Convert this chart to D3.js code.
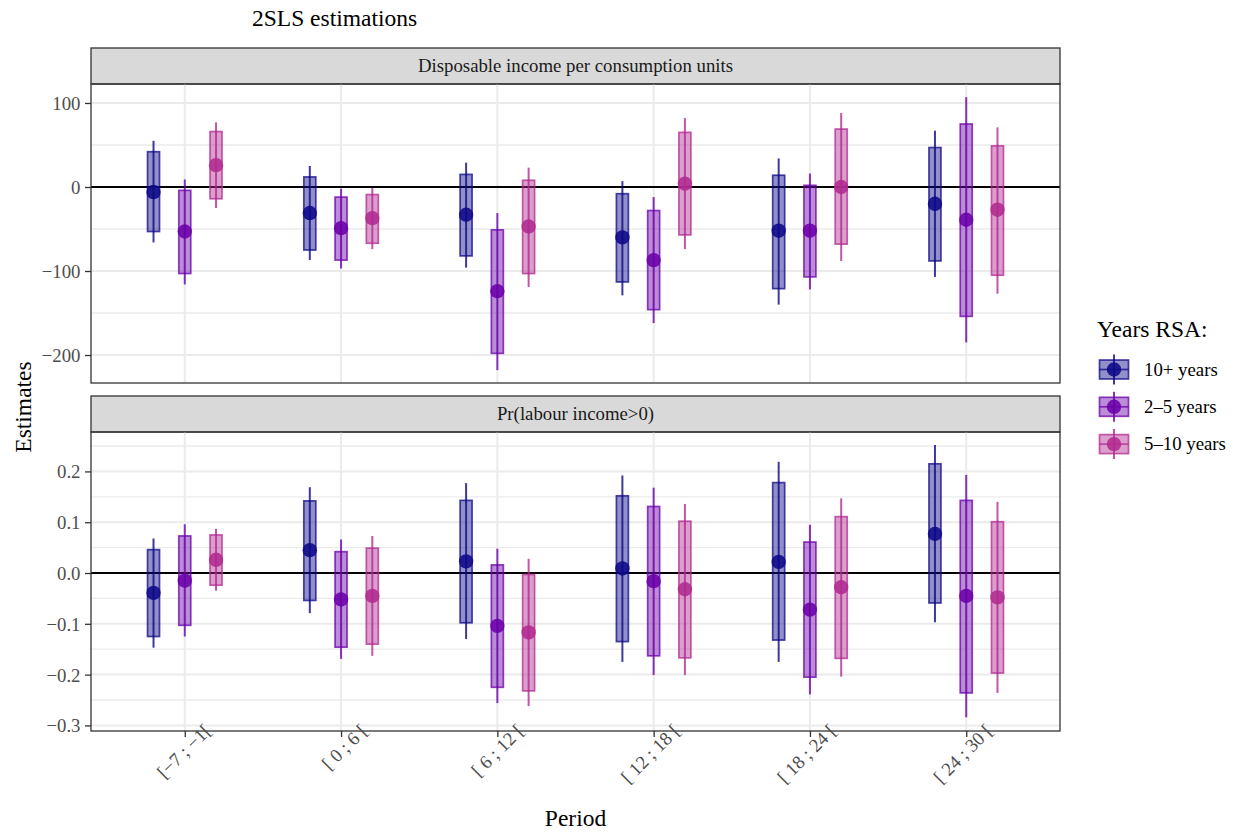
<!DOCTYPE html>
<html>
<head>
<meta charset="utf-8">
<script src="https://cdn.jsdelivr.net/npm/d3@7"></script>
<style>
  body { margin: 0; background: #fff; }
  text { font-family: "Liberation Serif", "Times New Roman", serif; }
</style>
</head>
<body>
<script>
// periods on the x axis
var periods = ["[\u22127 ; \u22121[", "[ 0 ; 6 [", "[ 6 ; 12 [", "[ 12 ; 18 [", "[ 18 ; 24 [", "[ 24 ; 30 ["];
var groups = ["10+ years", "2\u20135 years", "5\u201310 years"];
var panelTitles = ["Disposable income per consumption units", "Pr(labour income>0)"];

// disposable income : estimate, 90% band, 95% band (one row per group)
var incEst  = [[-6, -31, -33, -60, -52, -20], [-53, -49, -124, -87, -52, -39], [26, -37, -47, 4, 0, -27]];
var incLo90 = [[-53, -75, -82, -113, -121, -88], [-103, -87, -198, -146, -107, -154], [-14, -67, -103, -57, -68, -105]];
var incHi90 = [[42, 12, 15, -8, 14, 47], [-4, -12, -51, -28, 2, 75], [66, -9, 8, 65, 69, 49]];
var incLo95 = [[-66, -87, -96, -129, -140, -107], [-116, -97, -218, -162, -122, -185], [-25, -74, -119, -74, -88, -127]];
var incHi95 = [[55, 25, 29, 7, 34, 67], [9, -2, -31, -12, 16, 107], [77, -1, 23, 82, 88, 71]];

// labour income > 0
var labEst  = [[-0.039, 0.045, 0.023, 0.009, 0.022, 0.077], [-0.015, -0.052, -0.104, -0.016, -0.072, -0.045], [0.026, -0.045, -0.117, -0.032, -0.028, -0.048]];
var labLo90 = [[-0.125, -0.054, -0.098, -0.135, -0.132, -0.059], [-0.103, -0.146, -0.225, -0.163, -0.205, -0.236], [-0.024, -0.140, -0.232, -0.167, -0.168, -0.197]];
var labHi90 = [[0.046, 0.142, 0.143, 0.152, 0.178, 0.215], [0.073, 0.042, 0.016, 0.131, 0.061, 0.143], [0.075, 0.049, -0.003, 0.102, 0.111, 0.101]];
var labLo95 = [[-0.147, -0.079, -0.130, -0.175, -0.175, -0.097], [-0.125, -0.169, -0.256, -0.201, -0.239, -0.284], [-0.035, -0.163, -0.262, -0.201, -0.204, -0.236]];
var labHi95 = [[0.068, 0.169, 0.177, 0.192, 0.219, 0.252], [0.096, 0.066, 0.048, 0.168, 0.095, 0.193], [0.087, 0.073, 0.028, 0.136, 0.147, 0.140]];

// tick values
var incTicks = [100, 0, -100, -200];
var incMinor = [50, -50, -150];
var labTicks = [0.2, 0.1, 0.0, -0.1, -0.2, -0.3];
var labMinor = [0.25, 0.15, 0.05, -0.05, -0.15, -0.25];

var width = 1233, height = 832;
var left = 91, right = 1060;
var smallFont = 18.8, bigFont = 23.5;
var colors = [d3.interpolatePlasma(0), d3.interpolatePlasma(0.2), d3.interpolatePlasma(0.4)];

var svg = d3.select("body").append("svg")
    .attr("width", width)
    .attr("height", height);

var x = d3.scalePoint()
    .domain(periods)
    .range([left, right])
    .padding(0.6);
var dodge = x.step() * 0.2;

var minus = function(s){ return s.replace("-", "\u2212"); };

var panels = [
  {title: panelTitles[0], stripTop: 48, top: 84, bottom: 383, domain: [-233.3, 122.6],
   est: incEst, lo90: incLo90, hi90: incHi90, lo95: incLo95, hi95: incHi95,
   ticks: incTicks, minor: incMinor, fmt: function(d){ return minus(d3.format("d")(d)); }},
  {title: panelTitles[1], stripTop: 396, top: 432, bottom: 731, domain: [-0.311, 0.2776],
   est: labEst, lo90: labLo90, hi90: labHi90, lo95: labLo95, hi95: labHi95,
   ticks: labTicks, minor: labMinor, fmt: function(d){ return minus(d3.format(".1f")(d)); }}
];

panels.forEach(function(p, pi){
    var y = d3.scaleLinear().domain(p.domain).range([p.bottom, p.top]);

    // strip
    svg.append("rect")
        .attr("x", left).attr("y", p.stripTop)
        .attr("width", right - left).attr("height", p.top - p.stripTop)
        .attr("fill", "#d9d9d9").attr("stroke", "#333").attr("stroke-width", 1.3);
    svg.append("text")
        .attr("x", (left + right) / 2).attr("y", (p.stripTop + p.top) / 2 + 6)
        .attr("text-anchor", "middle")
        .attr("font-size", smallFont).attr("fill", "#1a1a1a")
        .text(p.title);

    var g = svg.append("g");

    // grid
    g.selectAll(".minor").data(p.minor).enter().append("line")
        .attr("x1", left).attr("x2", right)
        .attr("y1", function(d){ return y(d); }).attr("y2", function(d){ return y(d); })
        .attr("stroke", "#ebebeb").attr("stroke-width", 1.3);
    g.selectAll(".major").data(p.ticks).enter().append("line")
        .attr("x1", left).attr("x2", right)
        .attr("y1", function(d){ return y(d); }).attr("y2", function(d){ return y(d); })
        .attr("stroke", "#ebebeb").attr("stroke-width", 2);
    g.selectAll(".vgrid").data(periods).enter().append("line")
        .attr("x1", function(d){ return x(d); }).attr("x2", function(d){ return x(d); })
        .attr("y1", p.top).attr("y2", p.bottom)
        .attr("stroke", "#ebebeb").attr("stroke-width", 2);

    // zero line
    g.append("line")
        .attr("x1", left).attr("x2", right)
        .attr("y1", y(0)).attr("y2", y(0))
        .attr("stroke", "#000").attr("stroke-width", 2.2);

    // marks
    groups.forEach(function(name, gi){
        var off = (gi - 1) * dodge;
        var rows = periods.map(function(per, i){
            return {per: per, est: p.est[gi][i], lo90: p.lo90[gi][i], hi90: p.hi90[gi][i],
                    lo95: p.lo95[gi][i], hi95: p.hi95[gi][i]};
        });
        var sg = g.append("g");
        sg.selectAll(".whisk").data(rows).enter().append("line")
            .attr("x1", function(d){ return x(d.per) + off; })
            .attr("x2", function(d){ return x(d.per) + off; })
            .attr("y1", function(d){ return y(d.lo95); })
            .attr("y2", function(d){ return y(d.hi95); })
            .attr("stroke", colors[gi]).attr("stroke-opacity", 0.8).attr("stroke-width", 2);
        sg.selectAll(".box").data(rows).enter().append("rect")
            .attr("x", function(d){ return x(d.per) + off - 6; })
            .attr("width", 12)
            .attr("y", function(d){ return y(d.hi90); })
            .attr("height", function(d){ return y(d.lo90) - y(d.hi90); })
            .attr("fill", colors[gi]).attr("fill-opacity", 0.45)
            .attr("stroke", colors[gi]).attr("stroke-opacity", 0.75).attr("stroke-width", 1.7);
        sg.selectAll(".pt").data(rows).enter().append("circle")
            .attr("cx", function(d){ return x(d.per) + off; })
            .attr("cy", function(d){ return y(d.est); })
            .attr("r", 7.2)
            .attr("fill", colors[gi]).attr("fill-opacity", 0.88);
    });

    // border
    svg.append("rect")
        .attr("x", left).attr("y", p.top)
        .attr("width", right - left).attr("height", p.bottom - p.top)
        .attr("fill", "none").attr("stroke", "#333").attr("stroke-width", 1.3);

    // y axis
    var yAxis = d3.axisLeft(y).tickValues(p.ticks).tickSize(6).tickPadding(4.5).tickFormat(p.fmt);
    var ya = svg.append("g").attr("transform", "translate(" + left + ",0)").call(yAxis);
    ya.select(".domain").remove();
    ya.selectAll("line").attr("stroke", "#333").attr("stroke-width", 1.3);
    ya.selectAll("text").attr("font-size", smallFont).attr("fill", "#4d4d4d")
        .attr("font-family", "Liberation Serif, serif").attr("dy", "0.34em");

    if (pi == 1){
        var xAxis = d3.axisBottom(x).tickSize(6).tickPadding(0);
        var xa = svg.append("g").attr("transform", "translate(0," + p.bottom + ")").call(xAxis);
        xa.select(".domain").remove();
        xa.selectAll("line").attr("stroke", "#333").attr("stroke-width", 1.3);
        xa.selectAll("text")
            .attr("font-size", smallFont).attr("fill", "#4d4d4d")
            .attr("font-family", "Liberation Serif, serif")
            .attr("text-anchor", "end")
            .attr("dy", null)
            .attr("y", 0)
            .attr("transform", "translate(27,1) rotate(-45)");
    }
});

// titles
svg.append("text").attr("x", 252).attr("y", 26).attr("font-size", bigFont).attr("fill", "#000").text("2SLS estimations");
svg.append("text").attr("x", (left + right) / 2).attr("y", 826).attr("text-anchor", "middle")
    .attr("font-size", bigFont).text("Period");
svg.append("text").attr("transform", "translate(31,407) rotate(-90)").attr("text-anchor", "middle")
    .attr("font-size", bigFont).text("Estimates");

// legend
var lg = svg.append("g");
lg.append("text").attr("x", 1097).attr("y", 337).attr("font-size", bigFont).text("Years RSA:");
groups.forEach(function(name, gi){
    var cy = 369.5 + gi * 37.3, cx = 1114;
    var k = lg.append("g");
    k.append("line").attr("x1", cx).attr("x2", cx).attr("y1", cy - 15).attr("y2", cy + 15)
        .attr("stroke", colors[gi]).attr("stroke-opacity", 0.8).attr("stroke-width", 2);
    k.append("rect").attr("x", cx - 14.5).attr("y", cy - 9.5).attr("width", 29).attr("height", 19)
        .attr("fill", colors[gi]).attr("fill-opacity", 0.45)
        .attr("stroke", colors[gi]).attr("stroke-opacity", 0.75).attr("stroke-width", 1.7);
    k.append("line").attr("x1", cx - 14.5).attr("x2", cx + 14.5).attr("y1", cy).attr("y2", cy)
        .attr("stroke", colors[gi]).attr("stroke-opacity", 0.75).attr("stroke-width", 1.7);
    k.append("circle").attr("cx", cx).attr("cy", cy).attr("r", 7.2)
        .attr("fill", colors[gi]).attr("fill-opacity", 0.88);
    lg.append("text").attr("x", 1144).attr("y", cy + 6).attr("font-size", smallFont).text(name);
});
</script>
</body>
</html>
